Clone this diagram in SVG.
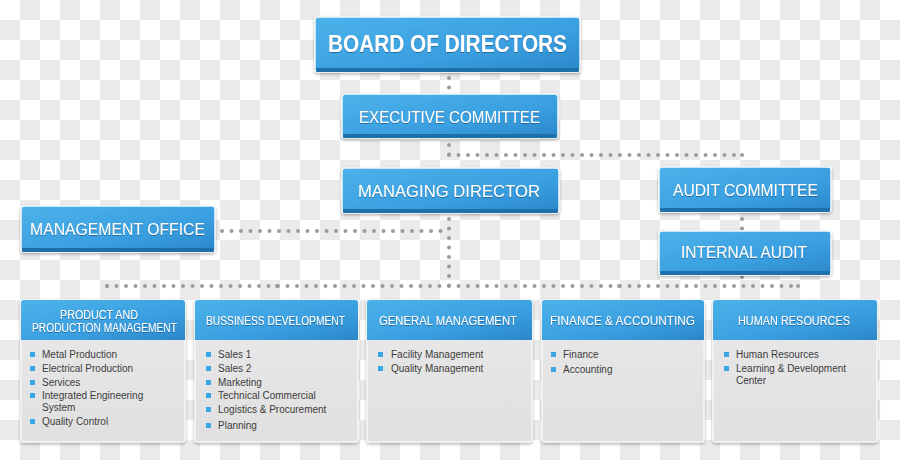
<svg xmlns="http://www.w3.org/2000/svg" width="900" height="460" viewBox="0 0 900 460">
<defs>
<pattern id="chk" width="40" height="40" patternUnits="userSpaceOnUse">
<rect width="40" height="40" fill="#ffffff"/>
<rect x="20" y="0" width="20" height="20" fill="#ebebeb"/>
<rect x="0" y="20" width="20" height="20" fill="#ebebeb"/>
</pattern>
<linearGradient id="blue" x1="0" y1="0" x2="1" y2="1">
<stop offset="0" stop-color="#4cb2ea"/>
<stop offset="0.6" stop-color="#3a9fe0"/>
<stop offset="1" stop-color="#2a87c9"/>
</linearGradient>
<linearGradient id="card" x1="0" y1="0" x2="0" y2="1">
<stop offset="0" stop-color="#e9e9e9"/>
<stop offset="1" stop-color="#e0e0e0"/>
</linearGradient>
<filter id="sh" x="-10%" y="-10%" width="120%" height="130%">
<feDropShadow dx="0" dy="1.5" stdDeviation="1.5" flood-color="#000" flood-opacity="0.3"/>
</filter>
<filter id="tsh" x="-5%" y="-20%" width="110%" height="150%">
<feDropShadow dx="0" dy="1" stdDeviation="0.6" flood-color="#0a4a7a" flood-opacity="0.6"/>
</filter>
</defs>
<style>
.box{fill:url(#blue);stroke:#f4f8fb;stroke-width:1.5;filter:url(#sh)}
.band{fill:#1e70ab}
.t{font-family:"Liberation Sans","DejaVu Sans",sans-serif;fill:#ffffff;text-anchor:middle;filter:url(#tsh)}
.big{font-size:23px;font-weight:bold}
.mid{font-size:17px}
.hd{font-size:12px}
.cardbg{fill:url(#card);stroke:#f6f6f6;stroke-width:1.5;filter:url(#sh)}
.hdr{fill:url(#blue)}
.li{font-family:"Liberation Sans","DejaVu Sans",sans-serif;font-size:10px;fill:#3c3c3c}
.bl{fill:#3aa6e6}
.dot{fill:none;stroke:#9c9c9c;stroke-width:4;stroke-linecap:round;stroke-dasharray:0 9.5}
</style>
<rect width="900" height="460" fill="url(#chk)"/>

<g id="connectors">
<path class="dot" d="M449 78 V88"/>
<path class="dot" d="M449 145 V164"/>
<path class="dot" d="M449 155 H742"/>
<path class="dot" d="M742 155 V164"/>
<path class="dot" d="M742 219 V229"/>
<path class="dot" d="M449 219 V286"/>
<path class="dot" d="M222 231 H449"/>
<path class="dot" d="M107 286 H798"/>
<path class="dot" d="M107 286 V295"/>
<path class="dot" d="M277 286 V295"/>
<path class="dot" d="M619 286 V295"/>
<path class="dot" d="M798 286 V295"/>
<path class="dot" d="M742 277 V286"/>
</g>

<g id="board">
<rect class="box" x="315" y="17" width="265" height="55" rx="3"/>
<rect class="band" x="316" y="68" width="263" height="4" rx="1"/>
<text class="t big" x="447.5" y="52" textLength="239" lengthAdjust="spacingAndGlyphs">BOARD OF DIRECTORS</text>
</g>

<g id="exec">
<rect class="box" x="342" y="94" width="216" height="44" rx="3"/>
<rect class="band" x="343" y="134" width="214" height="4" rx="1"/>
<text class="t mid" x="449.5" y="123" textLength="181" lengthAdjust="spacingAndGlyphs">EXECUTIVE COMMITTEE</text>
</g>

<g id="md">
<rect class="box" x="342" y="168" width="217" height="45" rx="3"/>
<rect class="band" x="343" y="209" width="215" height="4" rx="1"/>
<text class="t mid" x="449" y="197" textLength="182" lengthAdjust="spacingAndGlyphs">MANAGING DIRECTOR</text>
</g>

<g id="audit">
<rect class="box" x="659" y="167" width="172" height="45" rx="3"/>
<rect class="band" x="660" y="208" width="170" height="4" rx="1"/>
<text class="t mid" x="745.5" y="196" textLength="145" lengthAdjust="spacingAndGlyphs">AUDIT COMMITTEE</text>
</g>

<g id="internal">
<rect class="box" x="659" y="231" width="172" height="44" rx="3"/>
<rect class="band" x="660" y="271" width="170" height="4" rx="1"/>
<text class="t mid" x="744" y="258" textLength="126" lengthAdjust="spacingAndGlyphs">INTERNAL AUDIT</text>
</g>

<g id="mgmtoffice">
<rect class="box" x="21" y="206" width="194" height="46" rx="3"/>
<rect class="band" x="22" y="248" width="192" height="4" rx="1"/>
<text class="t mid" x="117.5" y="235" textLength="175" lengthAdjust="spacingAndGlyphs">MANAGEMENT OFFICE</text>
</g>

<g id="product">
<rect class="cardbg" x="21" y="300" width="164" height="142" rx="3"/>
<path class="hdr" d="M21 340 V303 a3 3 0 0 1 3 -3 H182 a3 3 0 0 1 3 3 V340 Z"/>
<text class="t hd" x="99" y="319" textLength="78" lengthAdjust="spacingAndGlyphs">PRODUCT AND</text>
<text class="t hd" x="104.5" y="332" textLength="145" lengthAdjust="spacingAndGlyphs">PRODUCTION MANAGEMENT</text>
<rect class="bl" x="30" y="352" width="5" height="5"/><text class="li" x="42" y="358">Metal Production</text>
<rect class="bl" x="30" y="366" width="5" height="5"/><text class="li" x="42" y="372">Electrical Production</text>
<rect class="bl" x="30" y="380" width="5" height="5"/><text class="li" x="42" y="386">Services</text>
<rect class="bl" x="30" y="393" width="5" height="5"/><text class="li" x="42" y="399">Integrated Engineering</text>
<text class="li" x="42" y="411">System</text>
<rect class="bl" x="30" y="419" width="5" height="5"/><text class="li" x="42" y="425">Quality Control</text>
</g>

<g id="business">
<rect class="cardbg" x="195" y="300" width="163" height="142" rx="3"/>
<path class="hdr" d="M195 340 V303 a3 3 0 0 1 3 -3 H355 a3 3 0 0 1 3 3 V340 Z"/>
<text class="t hd" x="275.5" y="325" textLength="139" lengthAdjust="spacingAndGlyphs">BUSSINESS DEVELOPMENT</text>
<rect class="bl" x="206" y="352" width="5" height="5"/><text class="li" x="218" y="358">Sales 1</text>
<rect class="bl" x="206" y="366" width="5" height="5"/><text class="li" x="218" y="372">Sales 2</text>
<rect class="bl" x="206" y="380" width="5" height="5"/><text class="li" x="218" y="386">Marketing</text>
<rect class="bl" x="206" y="393" width="5" height="5"/><text class="li" x="218" y="399">Technical Commercial</text>
<rect class="bl" x="206" y="407" width="5" height="5"/><text class="li" x="218" y="413">Logistics &amp; Procurement</text>
<rect class="bl" x="206" y="423" width="5" height="5"/><text class="li" x="218" y="429">Planning</text>
</g>

<g id="general">
<rect class="cardbg" x="367" y="300" width="165" height="142" rx="3"/>
<path class="hdr" d="M367 340 V303 a3 3 0 0 1 3 -3 H529 a3 3 0 0 1 3 3 V340 Z"/>
<text class="t hd" x="448" y="325" textLength="138" lengthAdjust="spacingAndGlyphs">GENERAL MANAGEMENT</text>
<rect class="bl" x="378" y="352" width="5" height="5"/><text class="li" x="391" y="358">Facility Management</text>
<rect class="bl" x="378" y="366" width="5" height="5"/><text class="li" x="391" y="372">Quality Management</text>
</g>

<g id="finance">
<rect class="cardbg" x="542" y="300" width="162" height="142" rx="3"/>
<path class="hdr" d="M542 340 V303 a3 3 0 0 1 3 -3 H701 a3 3 0 0 1 3 3 V340 Z"/>
<text class="t hd" x="622.5" y="325" textLength="145" lengthAdjust="spacingAndGlyphs">FINANCE &amp; ACCOUNTING</text>
<rect class="bl" x="551" y="352" width="5" height="5"/><text class="li" x="563" y="358">Finance</text>
<rect class="bl" x="551" y="367" width="5" height="5"/><text class="li" x="563" y="373">Accounting</text>
</g>

<g id="hr">
<rect class="cardbg" x="713" y="300" width="164" height="142" rx="3"/>
<path class="hdr" d="M713 340 V303 a3 3 0 0 1 3 -3 H874 a3 3 0 0 1 3 3 V340 Z"/>
<text class="t hd" x="794" y="325" textLength="112" lengthAdjust="spacingAndGlyphs">HUMAN RESOURCES</text>
<rect class="bl" x="724" y="352" width="5" height="5"/><text class="li" x="736" y="358">Human Resources</text>
<rect class="bl" x="724" y="366" width="5" height="5"/><text class="li" x="736" y="372">Learning &amp; Development</text>
<text class="li" x="736" y="384">Center</text>
</g>
</svg>
